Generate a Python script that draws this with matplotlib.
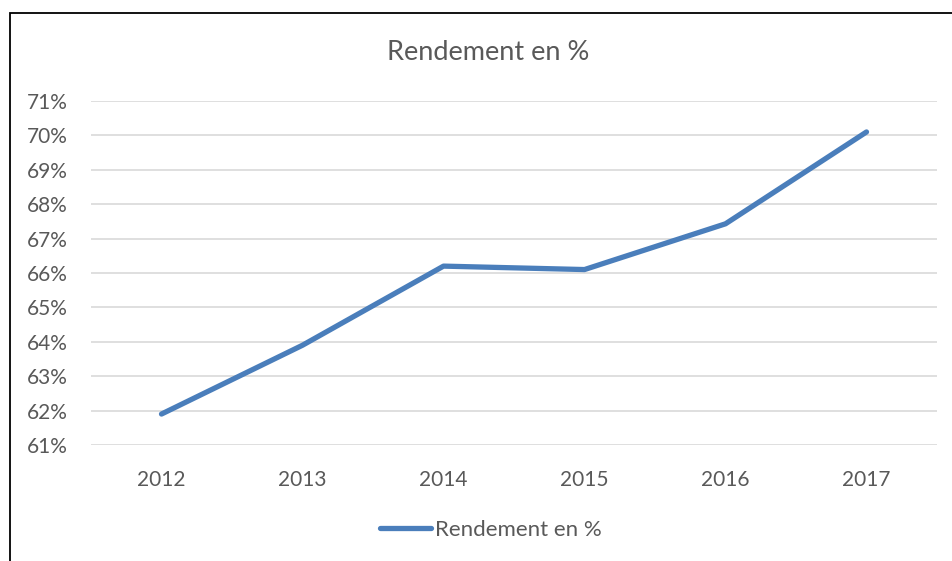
import numpy as np
import matplotlib
matplotlib.use('Agg')
import matplotlib.pyplot as plt
import matplotlib.patches as mpatches
from matplotlib.lines import Line2D
from matplotlib.ticker import FuncFormatter

YEARS = ['2012', '2013', '2014', '2015', '2016', '2017']
RENDEMENT = [61.9, 63.9, 66.2, 66.1, 67.43, 70.1]
YTICKS = list(range(61, 72))

BLUE = '#4A7EBB'
GREY = '#595959'
GRID = '#D9D9D9'

plt.rcParams['font.family'] = ['Lato', 'DejaVu Sans']

fig = plt.figure(figsize=(9.52, 5.61), dpi=100)
fig.patch.set_facecolor('white')
ax = fig.add_axes([91/952, 1 - 445/561, (937 - 91)/952, (445 - 101)/561])

x = np.arange(len(YEARS))
ax.plot(x, RENDEMENT, color=BLUE, lw=3.8, solid_capstyle='round',
        solid_joinstyle='round', zorder=3)

ax.set_xlim(-0.5, len(YEARS) - 0.5)
ax.set_ylim(61, 71)
ax.set_yticks(YTICKS)
ax.yaxis.set_major_formatter(FuncFormatter(lambda v, p: f'{v:.0f}%'))
ax.set_xticks(x)
ax.set_xticklabels(YEARS)
ax.grid(axis='y', color=GRID, lw=1.2)
ax.set_axisbelow(True)
for sp in ax.spines.values():
    sp.set_visible(False)
ax.tick_params(axis='both', length=0, labelsize=15, colors=GREY)
ax.tick_params(axis='y', pad=17)
ax.tick_params(axis='x', pad=18)

fig.text(488/952, 1 - 52/561, 'Rendement en %', ha='center', va='center',
         fontsize=19.5, color=GREY)

handle = Line2D([0], [0], color=BLUE, lw=3.8, solid_capstyle='round')
fig.legend([handle], ['Rendement en %'], loc='center', bbox_to_anchor=(491/952, 1 - 530/561),
           frameon=False, fontsize=16, labelcolor=GREY, handlelength=2.3, handletextpad=0.2)

# outer chart border (left/top only visible in the crop)
border = mpatches.Rectangle((10/952, -0.1), 1.2, 1 - 12.5/561 + 0.1, transform=fig.transFigure,
                            fill=False, edgecolor='black', lw=1.3)
fig.patches.append(border)

fig.savefig('out.png', dpi=100, facecolor='white')
